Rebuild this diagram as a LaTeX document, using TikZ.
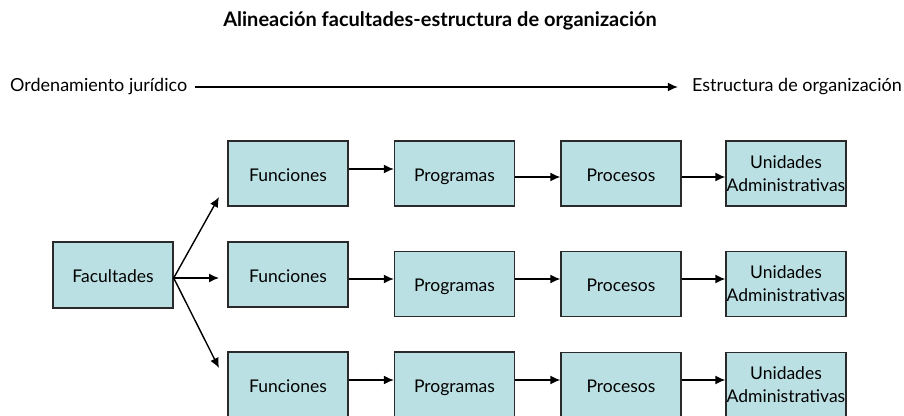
\documentclass[tikz,border=0pt]{standalone}
\usepackage{fontspec}
\setmainfont{Lato}
\usetikzlibrary{arrows.meta}
\definecolor{boxfill}{HTML}{BBE0E3}
\definecolor{boxline}{HTML}{2A2A2A}
\tikzset{
  bx/.style={draw=boxline, line width=1.4pt, fill=boxfill, minimum width=120pt, minimum height=65pt, inner sep=0pt, align=center, font=\fontsize{17.5}{23}\selectfont},
  sl/.style={bx, text height=19pt, text depth=4pt},
  arr/.style={line width=1.4pt, -{Latex[length=10pt,width=9pt]}},
  lbl/.style={inner sep=0pt, font=\fontsize{18}{21}\selectfont}
}
\begin{document}
\begin{tikzpicture}[x=1pt,y=-1pt]
\useasboundingbox (0,0) rectangle (904,415);
% title
\node[lbl, font=\fontsize{20}{24}\selectfont\bfseries] (title) at (440,21) {Alineación facultades-estructura de organización};
% top line
\node[lbl, anchor=west] (oj) at (10,87) {Ordenamiento jurídico};
\node[lbl, anchor=east] (eo) at (902,87) {Estructura de organización};
\draw[arr] ([xshift=8pt]oj.east) -- ([xshift=-14pt]eo.west);
% boxes
\node[sl, minimum height=66pt] (fac) at (113,275) {Facultades};
\node[sl] (f1) at (288,173.5) {Funciones};
\node[sl] (p1) at (454.5,173.5) {Programas};
\node[sl] (r1) at (621,173.5) {Procesos};
\node[bx] (u1) at (786,173.5) {Unidades\\Administrativas};
\node[sl] (f2) at (288,274.5) {Funciones};
\node[sl] (p2) at (454.5,284) {Programas};
\node[sl] (r2) at (621,284) {Procesos};
\node[bx] (u2) at (786,284) {Unidades\\Administrativas};
\node[sl] (f3) at (288,384.5) {Funciones};
\node[sl] (p3) at (454.5,384.5) {Programas};
\node[sl] (r3) at (621,385) {Procesos};
\node[bx] (u3) at (786,385) {Unidades\\Administrativas};
% arrow levels
\coordinate (y1a) at (0,169);
\coordinate (y1b) at (0,177);
\coordinate (y2) at (0,279);
\coordinate (y3) at (0,380);
\coordinate (t1) at (219,197);
\coordinate (t2) at (219,278);
\coordinate (t3) at (219,368);
\coordinate (fo) at (173,278);
% fan out
\draw[arr] (fac.east |- fo) -- (t1);
\draw[arr] (fac.east |- fo) -- (t2);
\draw[arr] (fac.east |- fo) -- (t3);
% rows
\draw[arr] (f1.east |- y1a) -- (p1.west |- y1a);
\draw[arr] (p1.east |- y1b) -- (r1.west |- y1b);
\draw[arr] (r1.east |- y1b) -- (u1.west |- y1b);
\draw[arr] (f2.east |- y2) -- (p2.west |- y2);
\draw[arr] (p2.east |- y2) -- (r2.west |- y2);
\draw[arr] (r2.east |- y2) -- (u2.west |- y2);
\draw[arr] (f3.east |- y3) -- (p3.west |- y3);
\draw[arr] (p3.east |- y3) -- (r3.west |- y3);
\draw[arr] (r3.east |- y3) -- (u3.west |- y3);
\end{tikzpicture}
\end{document}
